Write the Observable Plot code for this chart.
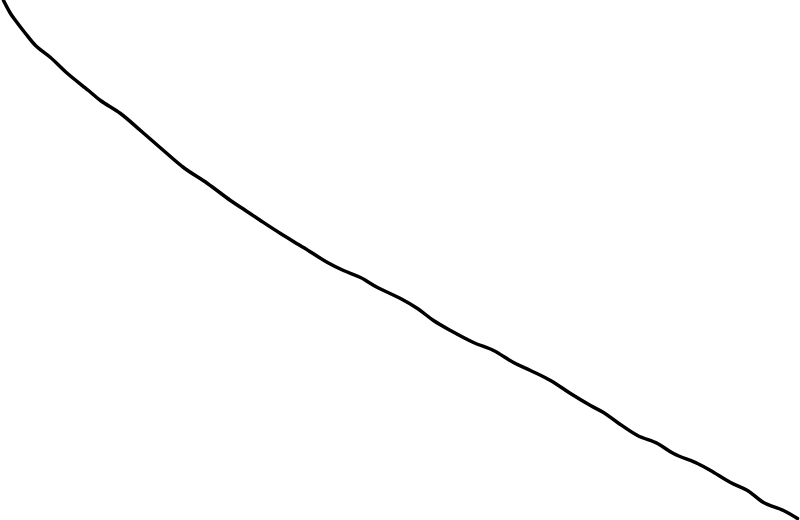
<!DOCTYPE html>
<html>
<head>
<meta charset="utf-8">
<script src="https://cdn.jsdelivr.net/npm/d3@7"></script>
<script src="https://cdn.jsdelivr.net/npm/@observablehq/plot@0.6"></script>
<style>
  html, body { margin: 0; padding: 0; background: #fff; overflow: hidden; }
  #chart svg { display: block; }
</style>
</head>
<body>
<div id="chart"></div>
<script>
const xs = [3, 10, 15, 25, 35, 50, 67, 88, 100, 120, 140, 163, 183, 207, 230, 245, 260, 280, 303, 327, 343, 360, 377, 400, 417, 433, 450, 473, 493, 513, 530, 550, 570, 590, 603, 617, 637, 657, 673, 697, 710, 730, 747, 763, 783, 797];
const ys = [520, 507, 500, 487, 475, 463, 447, 430, 420, 407, 390, 370, 353, 337, 320, 310, 300, 287, 273, 258, 250, 243, 233, 222, 212, 200, 190, 178, 170, 158, 150, 140, 127, 115, 108, 98, 85, 77, 67, 57, 50, 38, 30, 18, 10, 2];

const data = xs.map((x, i) => ({x, y: ys[i]}));

const chart = Plot.plot({
  width: 800,
  height: 520,
  margin: 0,
  x: {domain: [0, 800], axis: null},
  y: {domain: [0, 520], axis: null},
  marks: [
    Plot.line(data, {x: "x", y: "y", stroke: "black", strokeWidth: 3.5, strokeLinecap: "round", strokeLinejoin: "round", curve: "catmull-rom"})
  ]
});
document.getElementById("chart").appendChild(chart);
</script>
</body>
</html>
